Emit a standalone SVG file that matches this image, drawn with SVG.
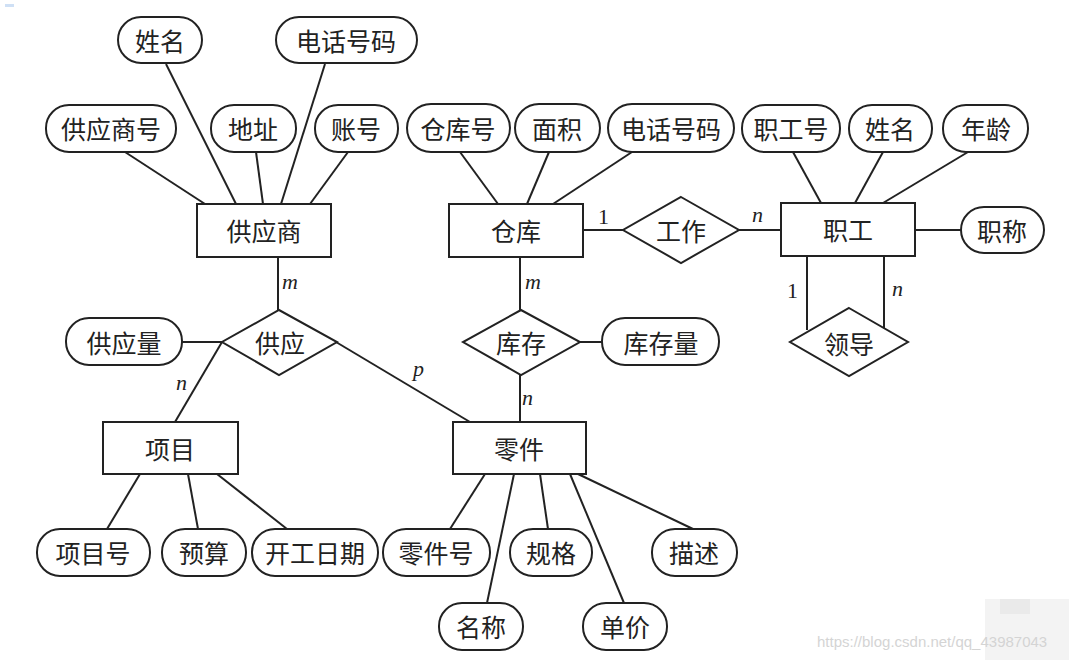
<svg xmlns="http://www.w3.org/2000/svg" width="1069" height="660" viewBox="0 0 1069 660">
<style>
.e{fill:#fff;stroke:#222;stroke-width:2}
.r{fill:#fff;stroke:#222;stroke-width:2}
.t{font-family:"Noto Sans CJK SC","Noto Sans",sans-serif;font-size:25px;fill:#222;text-anchor:middle;dominant-baseline:central}
.l{stroke:#222;stroke-width:2;fill:none}
.c{font-family:"Liberation Serif",serif;font-size:22px;fill:#222;font-style:italic}
.c1{font-family:"Liberation Serif",serif;font-size:22px;fill:#222}
.w{font-family:"Liberation Sans",sans-serif;font-size:15px;fill:#d4d4d4}
</style>
<rect width="1069" height="660" fill="#fff"/>
<rect x="5" y="4" width="9" height="3" fill="#cfe0f5"/>
<g id="connectors">
<line class="l" x1="125" y1="152" x2="205" y2="204"/>
<line class="l" x1="166" y1="64" x2="236" y2="204"/>
<line class="l" x1="256" y1="152" x2="263" y2="204"/>
<line class="l" x1="325" y1="64" x2="281" y2="204"/>
<line class="l" x1="348" y1="152" x2="310" y2="204"/>
<line class="l" x1="460" y1="152" x2="498" y2="204"/>
<line class="l" x1="549" y1="152" x2="527" y2="204"/>
<line class="l" x1="632" y1="152" x2="553" y2="204"/>
<line class="l" x1="583" y1="230" x2="623" y2="230"/>
<line class="l" x1="739" y1="230" x2="781" y2="230"/>
<line class="l" x1="793" y1="152" x2="821" y2="203"/>
<line class="l" x1="883" y1="152" x2="855" y2="203"/>
<line class="l" x1="968" y1="152" x2="883" y2="203"/>
<line class="l" x1="915" y1="230" x2="961" y2="230"/>
<line class="l" x1="807" y1="256" x2="807" y2="330"/>
<line class="l" x1="884" y1="256" x2="884" y2="328"/>
<line class="l" x1="278" y1="257" x2="278" y2="310"/>
<line class="l" x1="182" y1="342" x2="222" y2="342"/>
<line class="l" x1="222" y1="342" x2="175" y2="422"/>
<line class="l" x1="336" y1="342" x2="470" y2="422"/>
<line class="l" x1="520" y1="257" x2="520" y2="310"/>
<line class="l" x1="580" y1="342" x2="602" y2="342"/>
<line class="l" x1="520" y1="375" x2="520" y2="422"/>
<line class="l" x1="107" y1="529" x2="140" y2="474"/>
<line class="l" x1="198" y1="529" x2="188" y2="474"/>
<line class="l" x1="287" y1="529" x2="217" y2="474"/>
<line class="l" x1="450" y1="529" x2="485" y2="474"/>
<line class="l" x1="487" y1="603" x2="514" y2="474"/>
<line class="l" x1="548" y1="529" x2="540" y2="474"/>
<line class="l" x1="624" y1="603" x2="570" y2="474"/>
<line class="l" x1="693" y1="529" x2="578" y2="474"/>
<text class="c" x="282" y="289">m</text>
<text class="c" x="525" y="289">m</text>
<text class="c1" x="598" y="224">1</text>
<text class="c" x="752" y="222">n</text>
<text class="c1" x="787" y="298">1</text>
<text class="c" x="892" y="296">n</text>
<text class="c" x="176" y="390">n</text>
<text class="c" x="413" y="376">p</text>
<text class="c" x="522" y="405">n</text>
</g>
<g id="gys"><rect class="r" x="197" y="204" width="134" height="53"/><text class="t" x="264" y="230">供应商</text></g>
<g id="ck"><rect class="r" x="449" y="204" width="134" height="53"/><text class="t" x="516" y="230">仓库</text></g>
<g id="zg"><rect class="r" x="781" y="203" width="134" height="53"/><text class="t" x="848" y="229">职工</text></g>
<g id="xm"><rect class="r" x="103" y="422" width="135" height="52"/><text class="t" x="170" y="448">项目</text></g>
<g id="lj"><rect class="r" x="453" y="422" width="133" height="52"/><text class="t" x="519" y="448">零件</text></g>
<g id="gz"><polygon class="r" points="681,197 739,230 681,263 623,230"/><text class="t" x="681" y="230">工作</text></g>
<g id="ld"><polygon class="r" points="849,308 908,342 849,376 790,342"/><text class="t" x="849" y="343">领导</text></g>
<g id="gy"><polygon class="r" points="279,310 337,342 279,375 222,342"/><text class="t" x="280" y="342">供应</text></g>
<g id="kc"><polygon class="r" points="521,310 580,342 521,375 463,342"/><text class="t" x="521" y="342">库存</text></g>
<g id="a-xm1"><rect class="e" x="118" y="17" width="84" height="46" rx="23"/><text class="t" x="160" y="40">姓名</text></g>
<g id="a-dh1"><rect class="e" x="276" y="17" width="141" height="46" rx="23"/><text class="t" x="346" y="40">电话号码</text></g>
<g id="a-gysh"><rect class="e" x="46" y="105" width="130" height="47" rx="23"/><text class="t" x="111" y="128">供应商号</text></g>
<g id="a-dz"><rect class="e" x="211" y="105" width="85" height="47" rx="23"/><text class="t" x="253" y="128">地址</text></g>
<g id="a-zh"><rect class="e" x="315" y="105" width="83" height="47" rx="23"/><text class="t" x="356" y="128">账号</text></g>
<g id="a-ckh"><rect class="e" x="407" y="104" width="103" height="48" rx="24"/><text class="t" x="458" y="128">仓库号</text></g>
<g id="a-mj"><rect class="e" x="515" y="104" width="85" height="48" rx="24"/><text class="t" x="557" y="128">面积</text></g>
<g id="a-dh2"><rect class="e" x="608" y="104" width="126" height="48" rx="24"/><text class="t" x="671" y="128">电话号码</text></g>
<g id="a-zgh"><rect class="e" x="742" y="105" width="98" height="47" rx="23"/><text class="t" x="791" y="128">职工号</text></g>
<g id="a-xm2"><rect class="e" x="849" y="105" width="83" height="47" rx="23"/><text class="t" x="890" y="128">姓名</text></g>
<g id="a-nl"><rect class="e" x="943" y="105" width="85" height="47" rx="23"/><text class="t" x="986" y="128">年龄</text></g>
<g id="a-zc"><rect class="e" x="961" y="207" width="83" height="46" rx="23"/><text class="t" x="1002" y="230">职称</text></g>
<g id="a-gyl"><rect class="e" x="66" y="318" width="116" height="47" rx="23"/><text class="t" x="124" y="342">供应量</text></g>
<g id="a-kcl"><rect class="e" x="602" y="318" width="117" height="47" rx="23"/><text class="t" x="661" y="342">库存量</text></g>
<g id="a-xmh"><rect class="e" x="37" y="529" width="113" height="47" rx="23"/><text class="t" x="93" y="552">项目号</text></g>
<g id="a-ys"><rect class="e" x="162" y="529" width="84" height="47" rx="23"/><text class="t" x="204" y="552">预算</text></g>
<g id="a-kgrq"><rect class="e" x="252" y="529" width="126" height="47" rx="23"/><text class="t" x="315" y="552">开工日期</text></g>
<g id="a-ljh"><rect class="e" x="383" y="529" width="107" height="47" rx="23"/><text class="t" x="436" y="552">零件号</text></g>
<g id="a-gg"><rect class="e" x="510" y="529" width="82" height="47" rx="23"/><text class="t" x="551" y="552">规格</text></g>
<g id="a-ms"><rect class="e" x="652" y="529" width="85" height="47" rx="23"/><text class="t" x="694" y="552">描述</text></g>
<g id="a-mc"><rect class="e" x="439" y="603" width="84" height="47" rx="23"/><text class="t" x="481" y="626">名称</text></g>
<g id="a-dj"><rect class="e" x="583" y="603" width="84" height="47" rx="23"/><text class="t" x="625" y="626">单价</text></g>
<g id="watermark">
<rect x="985" y="599" width="84" height="61" fill="#f3f3f3"/>
<rect x="1000" y="599" width="30" height="15" fill="#eaeaea"/>
<text class="w" x="817" y="647">https://blog.csdn.net/qq_43987043</text>
</g>
</svg>
